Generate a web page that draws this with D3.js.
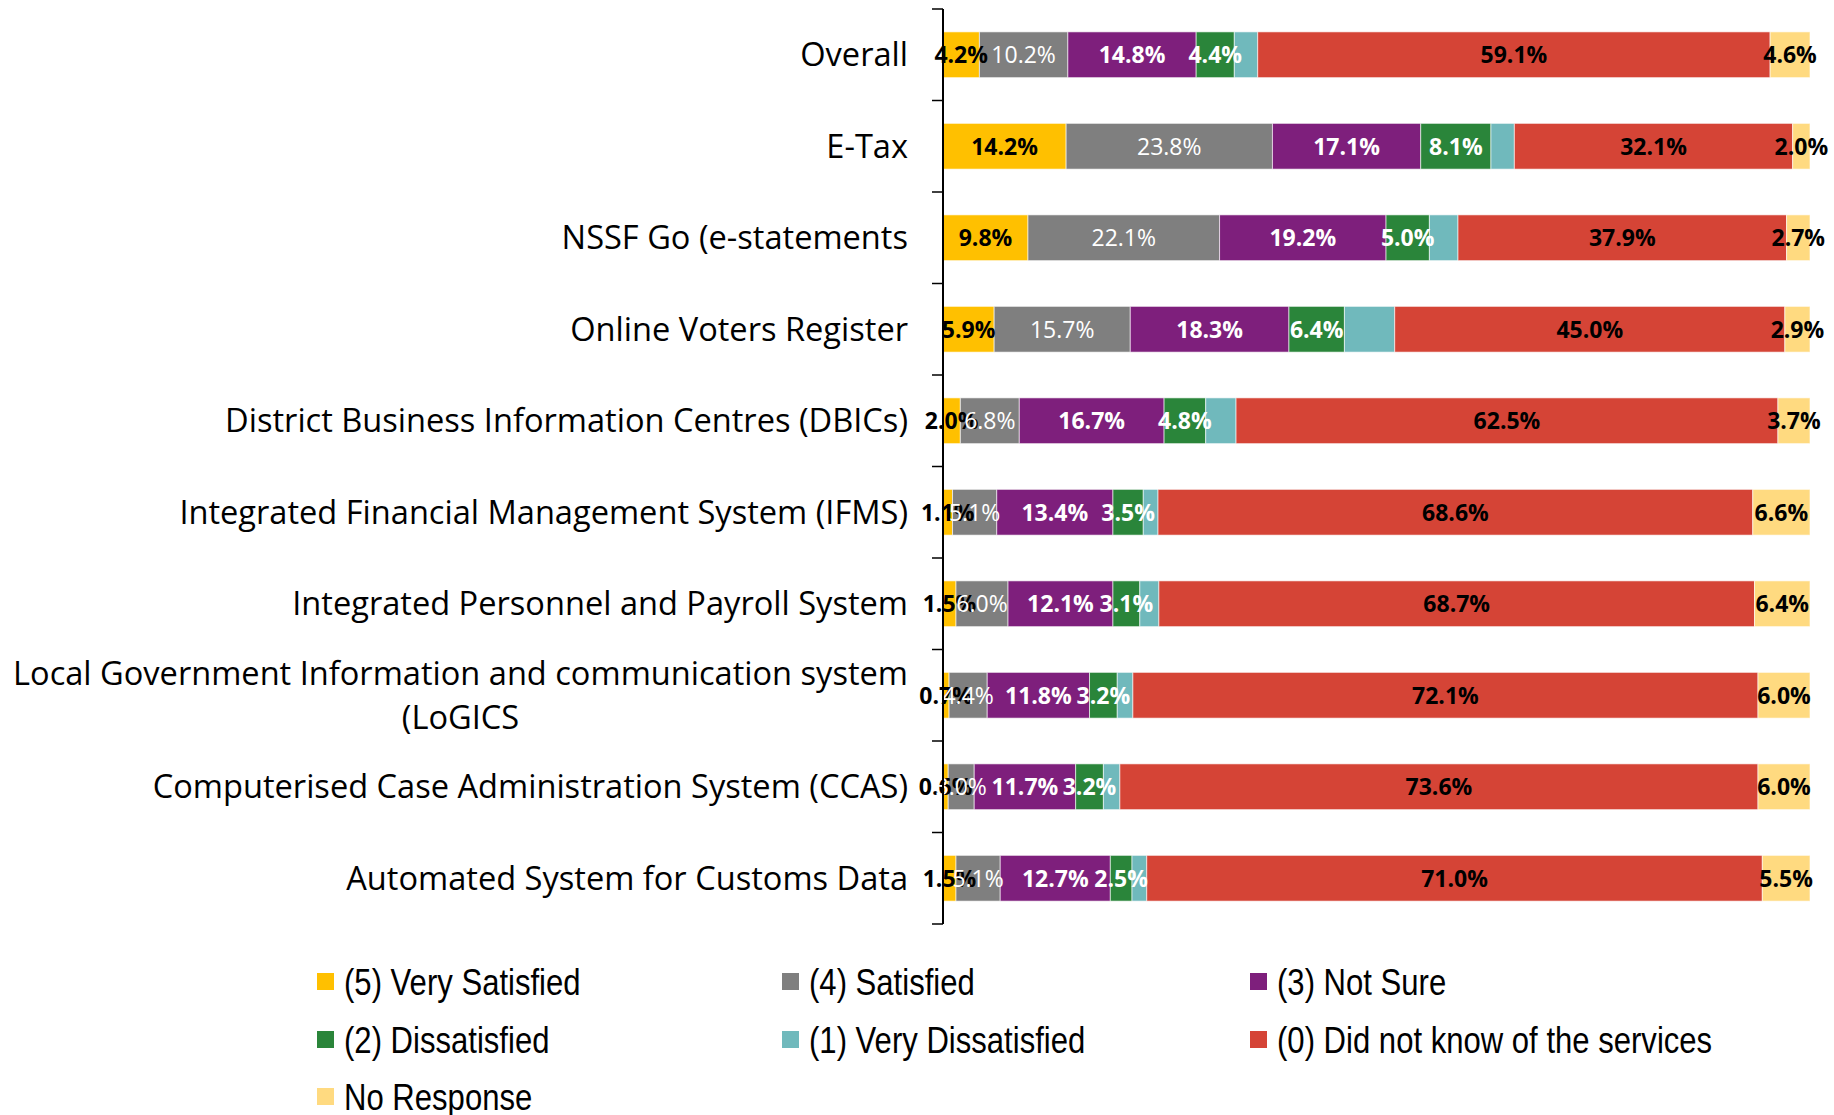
<!DOCTYPE html>
<html>
<head>
<meta charset="utf-8">
<script src="https://cdn.jsdelivr.net/npm/d3@7"></script>
<style>
  body { margin: 0; background: #fff; }
  svg { display: block; }
</style>
</head>
<body>
<script>
// chart data
var categories = [
    "Overall",
    "E-Tax",
    "NSSF Go (e-statements",
    "Online Voters Register",
    "District Business Information Centres (DBICs)",
    "Integrated Financial Management System (IFMS)",
    "Integrated Personnel and Payroll System",
    "Local Government Information and communication system\n(LoGICS",
    "Computerised Case Administration System (CCAS)",
    "Automated System for Customs Data"
];

var seriesNames = [
    "(5) Very Satisfied", "(4) Satisfied", "(3) Not Sure", "(2) Dissatisfied",
    "(1) Very Dissatisfied", "(0) Did not know of the services", "No Response"
];

var verySatisfied    = [4.2, 14.2, 9.8, 5.9, 2.0, 1.1, 1.5, 0.7, 0.6, 1.5];
var satisfied        = [10.2, 23.8, 22.1, 15.7, 6.8, 5.1, 6.0, 4.4, 3.0, 5.1];
var notSure          = [14.8, 17.1, 19.2, 18.3, 16.7, 13.4, 12.1, 11.8, 11.7, 12.7];
var dissatisfied     = [4.4, 8.1, 5.0, 6.4, 4.8, 3.5, 3.1, 3.2, 3.2, 2.5];
var veryDissatisfied = [2.7, 2.7, 3.3, 5.8, 3.5, 1.7, 2.2, 1.8, 1.9, 1.7];
var didNotKnow       = [59.1, 32.1, 37.9, 45.0, 62.5, 68.6, 68.7, 72.1, 73.6, 71.0];
var noResponse       = [4.6, 2.0, 2.7, 2.9, 3.7, 6.6, 6.4, 6.0, 6.0, 5.5];

window.onload = function () {
    var width = 1834,
        height = 1115;

    var seriesValues = [verySatisfied, satisfied, notSure, dissatisfied,
                        veryDissatisfied, didNotKnow, noResponse];
    var colors = ["#FFC000", "#7F7F7F", "#7E1F7C", "#2A853A", "#70B9BC", "#D54436", "#FFDA80"];
    // label styling per series (no label for very dissatisfied)
    var labelFill = ["#000", "#fff", "#fff", "#fff", null, "#000", "#000"];
    var labelWeight = ["bold", "normal", "bold", "bold", null, "bold", "bold"];

    var rows = categories.map(function (c, i) {
        var r = { cat: c };
        seriesNames.forEach(function (s, j) { r[s] = seriesValues[j][i]; });
        return r;
    });
    var stacked = d3.stack().keys(seriesNames)(rows);

    var svg = d3.select("body")
        .append("svg")
        .attr("width", width)
        .attr("height", height);

    var x = d3.scaleLinear()
        .domain([0, 100])
        .range([943, 1810]);

    var y = d3.scaleBand()
        .domain(categories)
        .range([9, 924])
        .paddingInner(0.5)
        .paddingOuter(0.25);

    var layers = svg.append("g")
        .selectAll("g")
        .data(stacked)
        .enter()
        .append("g")
        .attr("fill", function (d, i) { return colors[i]; });

    layers.selectAll("rect")
        .data(function (d) { return d; })
        .enter()
        .append("rect")
        .attr("x", function (d) { return x(d[0]); })
        .attr("width", function (d) { return x(d[1]) - x(d[0]); })
        .attr("y", function (d) { return y(d.data.cat); })
        .attr("height", y.bandwidth())
        .attr("stroke", "#fff")
        .attr("stroke-opacity", 0.6)
        .attr("stroke-width", 1);

    // data labels
    var labels = svg.append("g")
        .attr("font-family", "'Open Sans', sans-serif")
        .attr("font-size", 23)
        .attr("text-anchor", "middle");

    stacked.forEach(function (layer, i) {
        if (!labelFill[i]) return;
        labels.append("g")
            .selectAll("text")
            .data(layer)
            .enter()
            .append("text")
            .attr("x", function (d) { return (x(d[0]) + x(d[1])) / 2; })
            .attr("y", function (d) { return y(d.data.cat) + y.bandwidth() / 2; })
            .attr("dy", "0.36em")
            .attr("fill", labelFill[i])
            .attr("font-weight", labelWeight[i])
            .text(function (d) { return (d[1] - d[0]).toFixed(1) + "%"; });
    });

    // axis line with boundary ticks
    var axis = svg.append("g")
        .attr("stroke", "#000")
        .attr("stroke-width", 2);
    var half = y.step() * y.paddingInner() / 2;
    axis.append("line")
        .attr("x1", x(0)).attr("x2", x(0))
        .attr("y1", y(categories[0]) - half)
        .attr("y2", y(categories[categories.length - 1]) + y.bandwidth() + half);
    var bounds = categories.map(function (c) { return y(c) - half; });
    bounds.push(y(categories[categories.length - 1]) + y.bandwidth() + half);
    axis.selectAll(".tick")
        .data(bounds)
        .enter()
        .append("line")
        .attr("x1", x(0) - 11).attr("x2", x(0))
        .attr("y1", function (d) { return d; })
        .attr("y2", function (d) { return d; })
        .attr("stroke-width", 1.5);

    // category labels
    var catG = svg.append("g")
        .attr("font-family", "'Open Sans', sans-serif")
        .attr("font-size", 32.6)
        .attr("fill", "#000");
    categories.forEach(function (c) {
        var lines = c.split("\n");
        var cy = y(c) + y.bandwidth() / 2;
        if (lines.length === 1) {
            catG.append("text")
                .attr("x", 908)
                .attr("y", cy)
                .attr("dy", "0.36em")
                .attr("text-anchor", "end")
                .text(c);
        } else {
            var first = catG.append("text")
                .attr("x", 908)
                .attr("y", cy - 22)
                .attr("dy", "0.36em")
                .attr("text-anchor", "end")
                .text(lines[0]);
            var w = first.node().getComputedTextLength();
            catG.append("text")
                .attr("x", 908 - w / 2)
                .attr("y", cy + 22)
                .attr("dy", "0.36em")
                .attr("text-anchor", "middle")
                .text(lines[1]);
        }
    });

    // legend (narrow font imitated with a horizontal squeeze)
    var colX = [317, 782, 1250],
        rowY = [982, 1040, 1097];
    var legend = svg.append("g")
        .attr("font-family", "'Liberation Sans', Arial, sans-serif")
        .attr("font-size", 37);
    var item = legend.selectAll("g")
        .data(seriesNames)
        .enter()
        .append("g")
        .attr("transform", function (d, i) {
            return "translate(" + colX[i % 3] + "," + rowY[Math.floor(i / 3)] + ")";
        });
    item.append("rect")
        .attr("x", 0).attr("y", -9)
        .attr("width", 17).attr("height", 17)
        .attr("fill", function (d, i) { return colors[i]; });
    item.append("text")
        .attr("transform", "translate(27,0) scale(0.84,1)")
        .attr("dy", "0.36em")
        .text(function (d) { return d; });
};
</script>
</body>
</html>
